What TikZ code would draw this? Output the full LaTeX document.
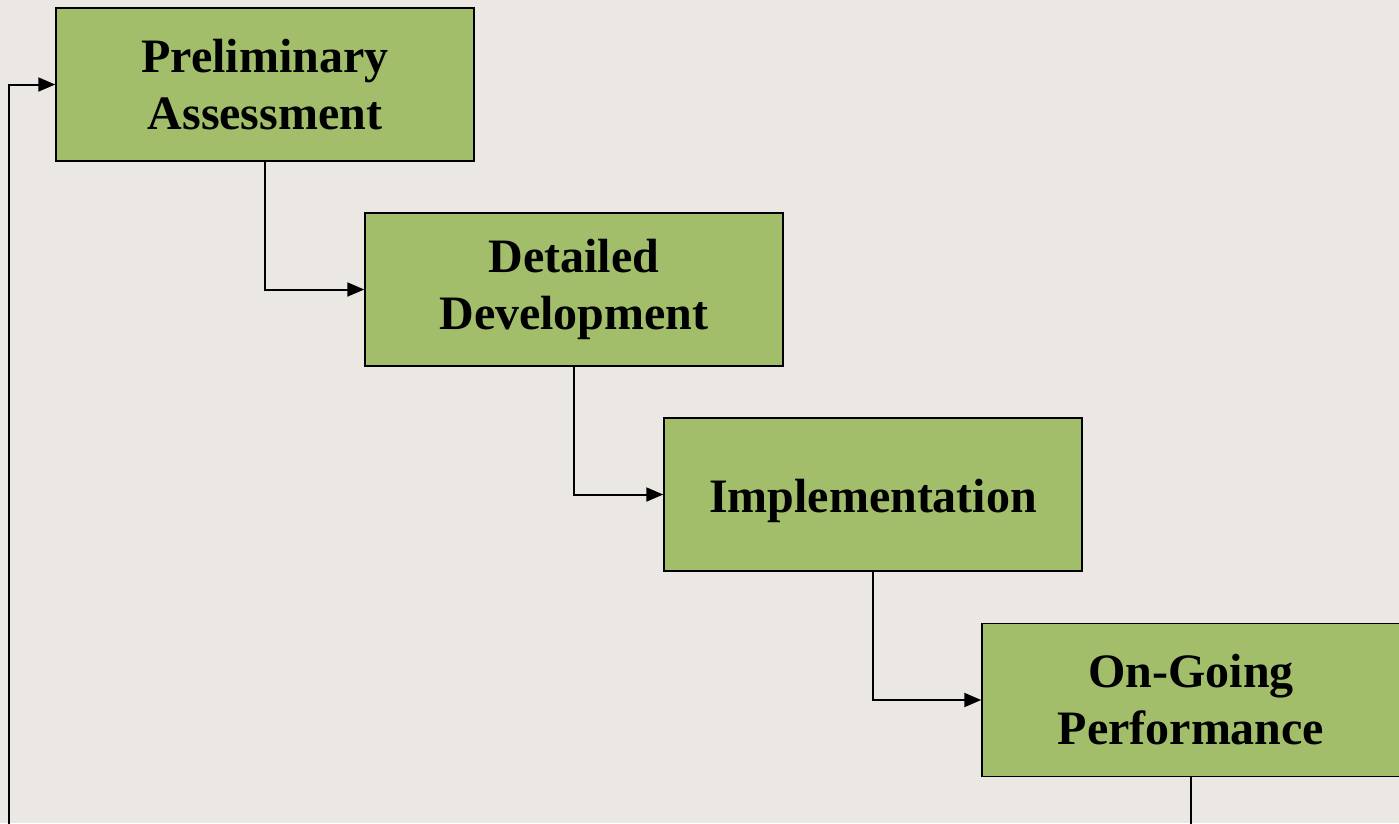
\documentclass[tikz,border=0pt]{standalone}
\usepackage{fontspec}
\setmainfont{Liberation Serif}
\usetikzlibrary{arrows.meta}
\definecolor{bgc}{HTML}{EBE7E3}
\definecolor{boxg}{HTML}{A2BE6A}
\begin{document}
\begin{tikzpicture}[x=1pt,y=-1pt,
  phase/.style={draw=black,line width=1.5pt,fill=boxg,minimum width=418pt,minimum height=153pt,
    inner sep=0pt,align=center,font=\fontsize{48}{57}\selectfont\bfseries},
  conn/.style={draw=black,line width=2pt,-{Triangle[length=17pt,width=14pt]}}]
\useasboundingbox (0,0) rectangle (1399,823);
\clip (0,0) rectangle (1399,823);
\fill[bgc] (0,0) rectangle (1399,823);
\node[phase] (p1) at (265,84.5) {Preliminary\\Assessment};
\node[phase] (p2) at (574,289.5) {Detailed\\Development};
\node[phase] (p3) at (873,494.5) {\raisebox{-6pt}[\height][\depth]{Implementation}};
\node[phase] (p4) at (1191,700) {On-Going\\Performance};
\coordinate (b4) at (1191,830);
\coordinate (b0) at (9,830);
\draw[conn] (p1.south) |- (p2.west);
\draw[conn] (p2.south) |- (p3.west);
\draw[conn] (p3.south) |- (p4.west);
\draw[conn] (p4.south) -- (b4) -| (b0) |- (p1.west);
\end{tikzpicture}
\end{document}
